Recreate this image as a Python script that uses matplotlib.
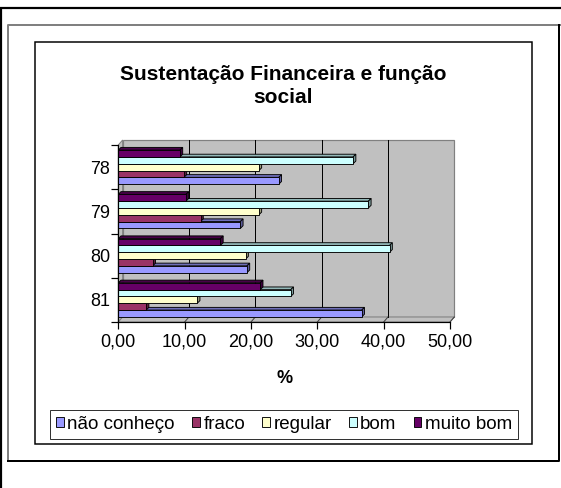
import matplotlib
matplotlib.use("Agg")
import matplotlib.pyplot as plt
from matplotlib.patches import Polygon, Rectangle, Patch
from matplotlib.colors import to_rgb

plt.rcParams['font.family'] = ['Liberation Sans', 'DejaVu Sans']

# Data (percent) per year, top-to-bottom order of the categories
categories = ['78', '79', '80', '81']
series_names = ['não conheço', 'fraco', 'regular', 'bom', 'muito bom']
nao_conheco = [24.2, 18.4, 19.4, 36.7]
fraco = [9.9, 12.4, 5.2, 4.2]
regular = [21.2, 21.2, 19.2, 11.9]
bom = [35.4, 37.7, 40.9, 26.0]
muito_bom = [9.3, 10.2, 15.4, 21.4]
series_values = [nao_conheco, fraco, regular, bom, muito_bom]
colors = ['#9999FF', '#993366', '#FFFFCC', '#CCFFFF', '#660066']
xticks = [0, 10, 20, 30, 40, 50]

W, H = 561, 488
fig = plt.figure(figsize=(W / 100, H / 100), dpi=100)

# Full-figure overlay in pixel coordinates for the frames
bg = fig.add_axes([0, 0, 1, 1], zorder=-5)
bg.set_xlim(0, W)
bg.set_ylim(H, 0)
bg.axis('off')
px = 72 / 100  # points per pixel
bg.plot([0, W], [8, 8], color='black', lw=2.2 * px, solid_capstyle='butt')
bg.plot([1, 1], [8, H], color='black', lw=2.2 * px, solid_capstyle='butt')
bg.plot([8.5, 8.5, 560], [461, 24.5, 24.5], color='#808080', lw=2 * px)
bg.plot([8.5, 559.5, 559.5], [460.5, 460.5, 24.5], color='black', lw=2 * px)
bg.add_patch(Rectangle((35, 41.5), 497, 402.5, fill=False, edgecolor='black', lw=1.5 * px))

fig.text(283.5 / W, 1 - 86 / H, 'Sustentação Financeira e função\nsocial',
         ha='center', va='center', fontsize=15, fontweight='bold', linespacing=1.3)

# Plot axes: x 0..50 from px 118.3 to 450, categories from px 145 to 322
ax = fig.add_axes([118.3 / W, 1 - 322 / H, 331.7 / W, 177 / H])
ncat = len(categories)
ax.set_xlim(0, 50)
ax.set_ylim(0, ncat)

xu = 331.7 / 50      # px per x unit
yu = 177 / ncat      # px per y unit
dxw, dyw = 4.3 / xu, 5.0 / yu   # wall depth
dxb, dyb = 2.7 / xu, 2.7 / yu   # bar depth


def shade(c, f):
    r, g, b = to_rgb(c)
    return (r * f, g * f, b * f)


wall_col = '#C0C0C0'
# back wall, side wall and floor
ax.add_patch(Polygon([(dxw, dyw), (50 + dxw, dyw), (50 + dxw, ncat + dyw), (dxw, ncat + dyw)],
                     closed=True, facecolor=wall_col, edgecolor='#808080', lw=1.2 * px,
                     clip_on=False, zorder=1))
ax.add_patch(Polygon([(0, 0), (dxw, dyw), (dxw, ncat + dyw), (0, ncat)],
                     closed=True, facecolor=wall_col, edgecolor='#808080', lw=1 * px,
                     clip_on=False, zorder=1))
ax.add_patch(Polygon([(0, 0), (50, 0), (50 + dxw, dyw), (dxw, dyw)],
                     closed=True, facecolor=wall_col, edgecolor='#808080', lw=1 * px,
                     clip_on=False, zorder=1))
for t in xticks[1:-1]:
    ax.plot([t + dxw, t + dxw], [dyw, ncat + dyw], color='black', lw=1 * px, zorder=2, clip_on=False)
for t in xticks[1:]:
    ax.plot([t, t + dxw], [0, dyw], color='#404040', lw=1 * px, zorder=2, clip_on=False)

# bars, drawn from the bottom up so upper bars hide lower top faces
nser = len(series_values)
h = 1 / (nser + 1.5)
gap = 0.75 * h
z = 3
for ci in range(ncat - 1, -1, -1):
    base = (ncat - 1 - ci) + gap
    for si in range(nser):
        v = series_values[si][ci]
        col = colors[si]
        y0 = base + si * h
        y1 = y0 + h
        ax.add_patch(Polygon([(0, y1), (v, y1), (v + dxb, y1 + dyb), (dxb, y1 + dyb)],
                             closed=True, facecolor=shade(col, 0.72), edgecolor='black',
                             lw=0.9 * px, clip_on=False, zorder=z))
        ax.add_patch(Polygon([(v, y0), (v + dxb, y0 + dyb), (v + dxb, y1 + dyb), (v, y1)],
                             closed=True, facecolor=shade(col, 0.6), edgecolor='black',
                             lw=0.9 * px, clip_on=False, zorder=z))
        ax.add_patch(Rectangle((0, y0), v, h, facecolor=col, edgecolor='black',
                               lw=0.9 * px, clip_on=False, zorder=z))
        z += 0.01

for s in ['top', 'right']:
    ax.spines[s].set_visible(False)
for s in ['left', 'bottom']:
    ax.spines[s].set_color('black')
    ax.spines[s].set_linewidth(1.2 * px)
    ax.spines[s].set_zorder(10)
ax.patch.set_alpha(0)

ax.set_xticks(xticks)
ax.set_xticklabels([f'{t:.2f}'.replace('.', ',') for t in xticks], fontsize=13)
ax.set_yticks(range(ncat + 1))
ax.set_yticklabels([])
ax.set_yticks([i + 0.5 for i in range(ncat)], minor=True)
ax.set_yticklabels(categories[::-1], minor=True, fontsize=13)
ax.tick_params(axis='x', direction='out', length=5, width=1.2 * px, pad=3)
ax.tick_params(axis='y', which='major', direction='out', length=5, width=1.2 * px)
ax.tick_params(axis='y', which='minor', length=0, pad=6)
ax.set_xlabel('%', fontsize=13, fontweight='bold', labelpad=14)

handles = [Patch(facecolor=c, edgecolor='black', lw=0.9 * px) for c in colors]
leg = fig.legend(handles, series_names, loc='center', bbox_to_anchor=(284 / W, 1 - 424.5 / H),
                 ncol=5, fontsize=13.5, frameon=True, fancybox=False, handlelength=0.42,
                 handleheight=0.42, handletextpad=0.2, columnspacing=0.9, borderpad=0.3,
                 borderaxespad=0)
leg.get_frame().set_edgecolor('black')
leg.get_frame().set_linewidth(1 * px)

fig.savefig('out.png', dpi=100)
